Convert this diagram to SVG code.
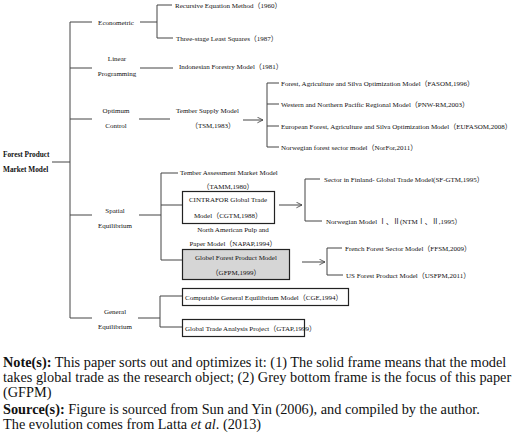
<svg xmlns="http://www.w3.org/2000/svg" width="520" height="433" viewBox="0 0 520 433">
<style>
.t{font-family:"Liberation Serif","Noto Sans CJK SC",serif;font-size:7px;fill:#111}
.c{text-anchor:middle}
.b{font-weight:bold;font-size:7.3px}
.cap{font-family:"Liberation Serif",serif;font-size:14.3px;fill:#111}
.ln{stroke:#444;stroke-width:1;fill:none}
.box{stroke:#222;stroke-width:1.2;fill:#fff}
.grey{fill:#d6d6d6}
</style>
<defs>
<marker id="ar" viewBox="0 0 10 10" refX="9" refY="5" markerWidth="7" markerHeight="7" orient="auto" markerUnits="userSpaceOnUse">
<path d="M1,1 L9,5 L1,9" fill="none" stroke="#444" stroke-width="1.2"/>
</marker>
</defs>
<rect width="520" height="433" fill="#fff"/>
<g id="connectors">
<path class="ln" d="M52,162H70M70,22V318M70,22H92M70,68H92M70,119H92M70,215H92M70,318H92"/>
<path class="ln" d="M140,22H157M157,5V38M157,5H172M157,38H173"/>
<path class="ln" d="M140,68H173"/>
<path class="ln" d="M139,119H170"/>
<path class="ln" d="M243,120H263" marker-end="url(#ar)"/>
<path class="ln" d="M267,83V147M267,83H279M267,104H279M267,126H279M267,147H279"/>
<path class="ln" d="M139,215H161M161,173V260M161,173H178M161,205H182M161,260H182"/>
<path class="ln" d="M279,205H302" marker-end="url(#ar)"/>
<path class="ln" d="M305,179V221M305,179H320M305,221H322"/>
<path class="ln" d="M302,262H325" marker-end="url(#ar)"/>
<path class="ln" d="M327,248V275M327,248H342M327,275H343"/>
<path class="ln" d="M138,318H160M160,296V327M160,296H182M160,327H182"/>
</g>
<g id="root"><text class="t b" x="3" y="157">Forest Product</text><text class="t b" x="3" y="172">Market Model</text></g>
<g id="econometric"><text class="t c" x="116" y="24.5">Econometric</text></g>
<g id="recursive"><text class="t" x="175" y="8">Recursive Equation Method（1960）</text></g>
<g id="threestage"><text class="t" x="176" y="41">Three-stage Least Squares（1987）</text></g>
<g id="linear"><text class="t c" x="117" y="60.5">Linear</text><text class="t c" x="117" y="75.5">Programming</text></g>
<g id="indonesian"><text class="t" x="179" y="68.5">Indonesian Forestry Model（1981）</text></g>
<g id="optimum"><text class="t c" x="116" y="112.5">Optimum</text><text class="t c" x="116" y="127.5">Control</text></g>
<g id="tsm"><text class="t" x="176" y="112.5">Tember Supply Model</text><text class="t c" x="213" y="127.5">（TSM,1983）</text></g>
<g id="fasom"><text class="t" x="281" y="85.5">Forest, Agriculture and Silva Optimization Model（FASOM,1996）</text></g>
<g id="pnw"><text class="t" x="281" y="106.5">Western and Northern Pacific Regional Model（PNW-RM,2003）</text></g>
<g id="eufasom"><text class="t" x="281" y="128.5">European Forest, Agriculture and Silva Optimization Model（EUFASOM,2008）</text></g>
<g id="norfor"><text class="t" x="281" y="149.5">Norwegian forest sector model（NorFor,2011）</text></g>
<g id="spatial"><text class="t c" x="115" y="212.5">Spatial</text><text class="t c" x="115" y="227.5">Equilibrium</text></g>
<g id="tamm"><text class="t" x="180" y="175">Tember Assessment Market Model</text><text class="t c" x="228" y="188.5">（TAMM,1980）</text></g>
<g id="cgtm"><rect class="box" x="182.5" y="191.5" width="92" height="32"/><text class="t c" x="228" y="202">CINTRAFOR Global Trade</text><text class="t c" x="228" y="217.5">Model（CGTM,1988）</text></g>
<g id="napap"><text class="t c" x="233" y="232">North American Pulp and</text><text class="t c" x="233" y="245.5">Paper Model（NAPAP,1994）</text></g>
<g id="gfpm"><rect class="box grey" x="182.5" y="249.5" width="107" height="30"/><text class="t c" x="236" y="259.5">Globel Forest Product Model</text><text class="t c" x="236" y="275">（GFPM,1999）</text></g>
<g id="sfgtm"><text class="t" x="324" y="181.5">Sector in Finland- Global Trade Model(SF-GTM,1995）</text></g>
<g id="ntm"><text class="t" x="326" y="223.5">Norwegian Model Ⅰ、Ⅱ(NTMⅠ、Ⅱ,1995）</text></g>
<g id="ffsm"><text class="t" x="345" y="250.5">French Forest Sector Model（FFSM,2009）</text></g>
<g id="usfpm"><text class="t" x="346" y="277.5">US Forest Product Model（USFPM,2011）</text></g>
<g id="general"><text class="t c" x="115" y="313.5">General</text><text class="t c" x="115" y="328.5">Equilibrium</text></g>
<g id="cge"><rect class="box" x="182.5" y="288.5" width="166" height="17"/><text class="t" x="185" y="299.5">Computable General Equilibrium Model（CGE,1994）</text></g>
<g id="gtap"><rect class="box" x="182.5" y="319.5" width="122" height="17"/><text class="t" x="185" y="330.5">Global Trade Analysis Project（GTAP,1999）</text></g>
<g id="caption">
<text class="cap" x="3" y="367"><tspan font-weight="bold">Note(s):</tspan> This paper sorts out and optimizes it: (1) The solid frame means that the model</text>
<text class="cap" x="3" y="382">takes global trade as the research object; (2) Grey bottom frame is the focus of this paper</text>
<text class="cap" x="3" y="397">(GFPM)</text>
<text class="cap" x="3" y="414"><tspan font-weight="bold">Source(s):</tspan> Figure is sourced from Sun and Yin (2006), and compiled by the author.</text>
<text class="cap" x="3" y="429">The evolution comes from Latta <tspan font-style="italic">et al</tspan>. (2013)</text>
</g>
</svg>
